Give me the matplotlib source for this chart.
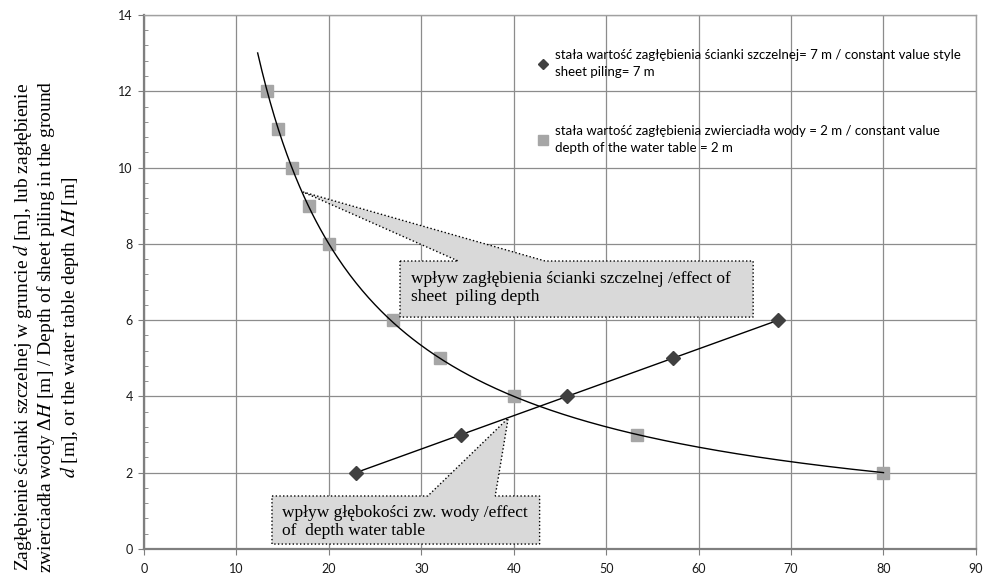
import numpy as np
import matplotlib.pyplot as plt
from matplotlib.patches import Polygon

# constant sheet piling depth = 7 m (diamonds)
x_pile = [22.9, 34.3, 45.8, 57.2, 68.6]
y_pile = [2, 3, 4, 5, 6]

# constant water table depth = 2 m (squares)
x_water = [13.3, 14.5, 16.0, 17.8, 20.0, 26.9, 32.0, 40.0, 53.3, 80.0]
y_water = [12, 11, 10, 9, 8, 6, 5, 4, 3, 2]

label_pile = ('stała wartość zagłębienia ścianki szczelnej= 7 m / constant value style\n'
              'sheet piling= 7 m')
label_water = ('stała wartość zagłębienia zwierciadła wody = 2 m / constant value\n'
               'depth of the water table = 2 m')
ylabel = ('Zagłębienie ścianki szczelnej w gruncie $d$ [m], lub zagłębienie\n'
          'zwierciadła wody Δ$H$ [m] / Depth of sheet piling in the ground\n'
          '$d$ [m], or the water table depth Δ$H$ [m]')
note_pile = 'wpływ zagłębienia ścianki szczelnej /effect of\nsheet  piling depth'
note_water = 'wpływ głębokości zw. wody /effect\nof  depth water table'

plt.rcParams['mathtext.fontset'] = 'stix'

fig = plt.figure(figsize=(9.84, 5.83), dpi=100)
ax = fig.add_axes([0.1463, 0.0583, 0.8455, 0.916])

# trend lines
k = np.polyfit(x_pile, y_pile, 1)
xl = np.array([min(x_pile), max(x_pile)])
ax.plot(xl, np.polyval(k, xl), color='black', lw=1.0, zorder=3)

b, ln_a = np.polyfit(np.log(x_water), np.log(y_water), 1)
xc = np.linspace(12.3, max(x_water), 300)
ax.plot(xc, np.exp(ln_a) * xc ** b, color='black', lw=1.0, zorder=3)

ax.plot(x_pile, y_pile, ls='none', marker='D', ms=7, color='#404040',
        mec='#404040', label=label_pile, zorder=4)
ax.plot(x_water, y_water, ls='none', marker='s', ms=9, color='#a6a6a6',
        mec='#a6a6a6', label=label_water, zorder=2)

ax.set_xlim(0, 90)
ax.set_ylim(0, 14)
ax.set_xticks(range(0, 91, 10))
ax.set_yticks(range(0, 15, 2))
ax.set_yticks(np.arange(0, 14.01, 0.4), minor=True)
ax.grid(True, which='major', color='#8c8c8c', lw=0.9)
ax.set_axisbelow(True)

for s in ['left', 'bottom']:
    ax.spines[s].set_color('#7f7f7f')
    ax.spines[s].set_linewidth(1.6)
for s in ['top', 'right']:
    ax.spines[s].set_color('#a0a0a0')
    ax.spines[s].set_linewidth(1.0)

ax.tick_params(axis='both', which='major', direction='out', length=4,
               color='#7f7f7f', labelsize=9, labelcolor='#1a1a1a', pad=4)
ax.tick_params(axis='y', which='minor', direction='in', length=3, color='#7f7f7f')
ax.tick_params(axis='x', which='major', pad=6)
for t in ax.get_xticklabels() + ax.get_yticklabels():
    t.set_fontfamily('Lato')

leg = ax.legend(loc='upper left', bbox_to_anchor=(0.4736, 0.937), frameon=False,
                prop={'family': 'Lato', 'size': 9.5}, handlelength=0.8,
                handletextpad=0.5, borderpad=0, borderaxespad=0,
                labelspacing=3.6, markerscale=0.8)
for t in leg.get_texts():
    t.set_linespacing(1.5)

fig.text(0.0467, 0.439, ylabel, rotation=90, ha='center', va='center',
         multialignment='center', family='Liberation Serif', fontsize=14,
         linespacing=1.07)


# callouts: box (left, right, bottom, top), pointer base on top edge, tip
def callout(left, right, bottom, top, base0, base1, tip, text, tx, ty):
    pts = [(left, top), (base0, top), tip, (base1, top), (right, top),
           (right, bottom), (left, bottom)]
    ax.add_patch(Polygon(pts, closed=True, fc='#d9d9d9', ec='black',
                         ls=':', lw=1.0, zorder=5))
    ax.text(tx, ty, text, ha='left', va='center', family='Liberation Serif',
            fontsize=12.5, linespacing=1.2, zorder=6)


callout(27.7, 65.9, 6.08, 7.55, 34.0, 43.4, (17.2, 9.36), note_pile, 28.9, 6.84)
callout(13.85, 42.8, 0.13, 1.39, 30.7, 38.0, (39.4, 3.43), note_water, 14.9, 0.71)

fig.savefig('out.png', dpi=100)
